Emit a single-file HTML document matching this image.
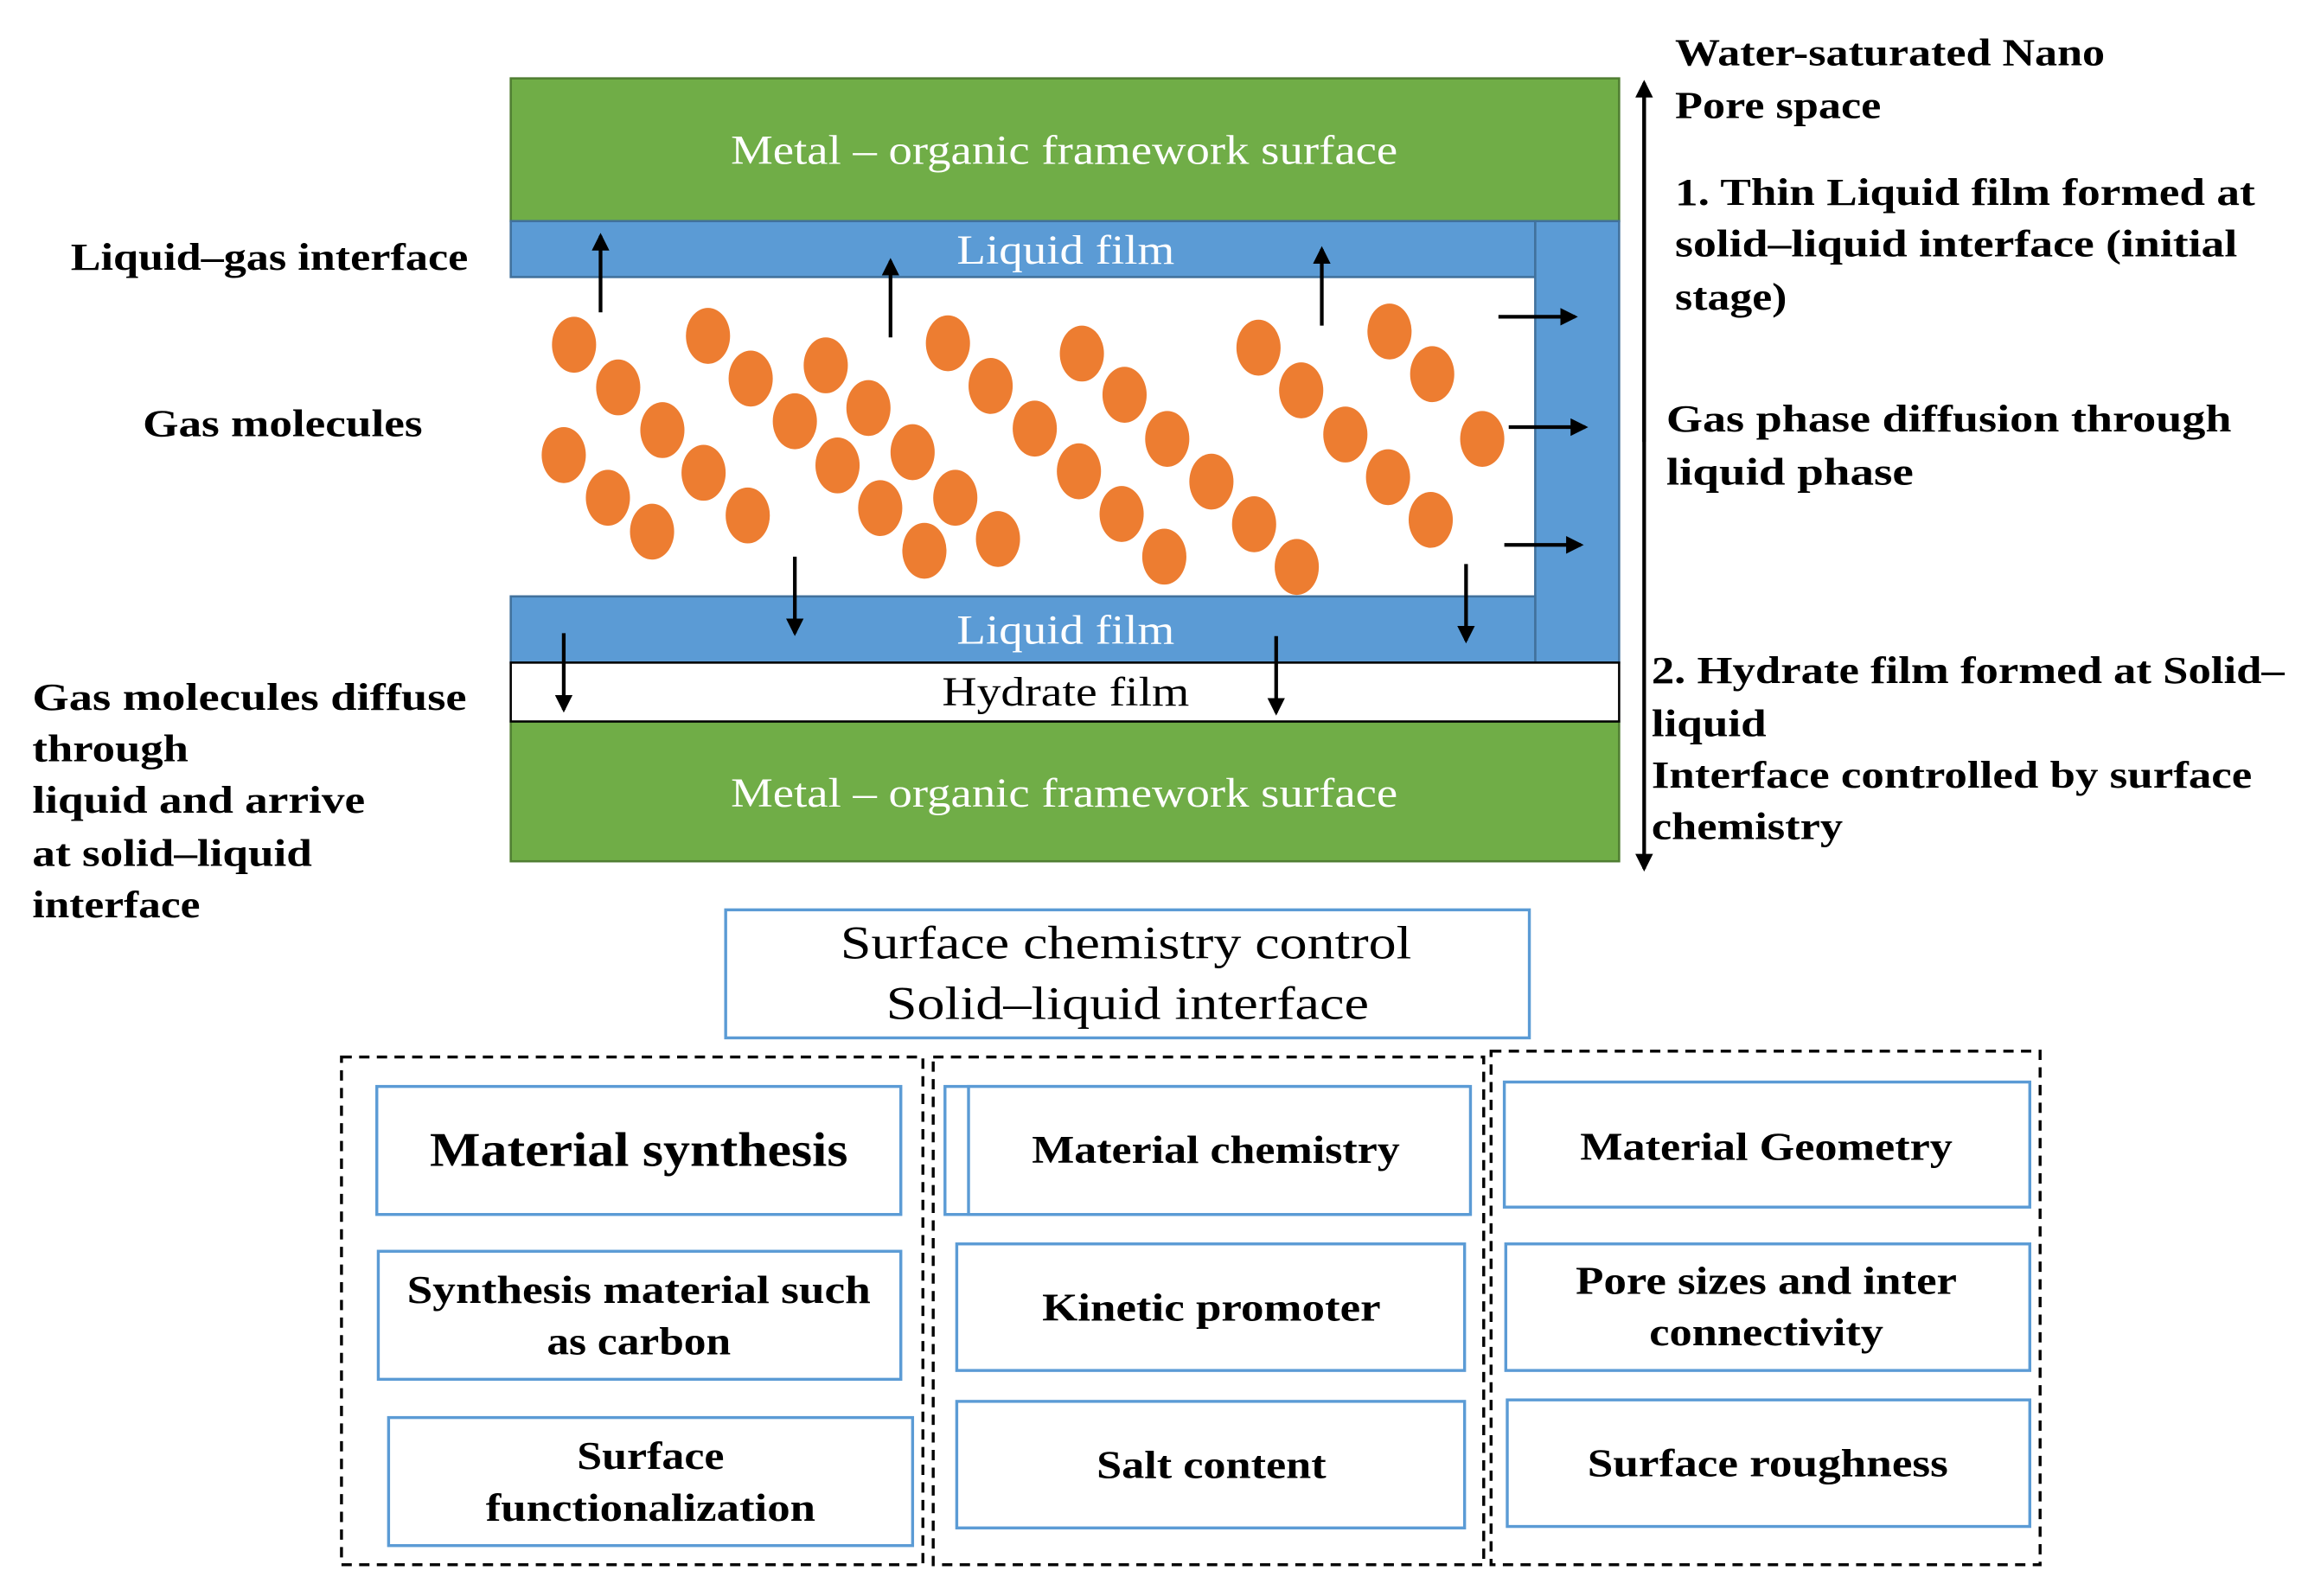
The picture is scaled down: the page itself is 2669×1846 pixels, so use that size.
<!DOCTYPE html>
<html><head><meta charset="utf-8"><style>
html,body{margin:0;padding:0;background:#fff;}
svg{display:block;}
text{font-family:"Liberation Serif",serif;}
</style></head><body>
<svg width="2669" height="1846" viewBox="0 0 1568 1084" xmlns="http://www.w3.org/2000/svg">
<defs>
<marker id="ah2" markerWidth="12" markerHeight="12" refX="10" refY="6" orient="auto" markerUnits="userSpaceOnUse"><path d="M0,0 L12,6 L0,12 z" fill="#000"/></marker>
</defs>
<rect width="1568" height="1084" fill="#fff"/>
<rect x="347" y="53" width="753" height="97" fill="#70AD47" stroke="#507E32" stroke-width="1.5"/>
<rect x="347" y="490" width="753" height="95" fill="#70AD47" stroke="#507E32" stroke-width="1.5"/>
<rect x="347" y="150" width="696" height="38" fill="#5B9BD5" stroke="#41719C" stroke-width="1.5"/>
<rect x="1043" y="150" width="57" height="300" fill="#5B9BD5" stroke="#41719C" stroke-width="1.5"/>
<rect x="347" y="405" width="696" height="45" fill="#5B9BD5" stroke="#41719C" stroke-width="1.5"/>
<rect x="347" y="450" width="753" height="40" fill="#fff" stroke="#000" stroke-width="1.5"/>
<g fill="#fff" font-size="28" text-anchor="middle" lengthAdjust="spacingAndGlyphs">
<text x="723" y="111" textLength="453" lengthAdjust="spacingAndGlyphs">Metal – organic framework surface</text>
<text x="723" y="548" textLength="453" lengthAdjust="spacingAndGlyphs">Metal – organic framework surface</text>
<text x="724" y="179" textLength="148" lengthAdjust="spacingAndGlyphs">Liquid film</text>
<text x="724" y="437" textLength="148" lengthAdjust="spacingAndGlyphs">Liquid film</text>
</g>
<text x="724" y="479" font-size="28" text-anchor="middle" textLength="168" lengthAdjust="spacingAndGlyphs">Hydrate film</text>
<g fill="#ED7D31">
<ellipse cx="390" cy="234" rx="15" ry="19"/><ellipse cx="420" cy="263" rx="15" ry="19"/><ellipse cx="450" cy="292" rx="15" ry="19"/>
<ellipse cx="383" cy="309" rx="15" ry="19"/><ellipse cx="413" cy="338" rx="15" ry="19"/><ellipse cx="443" cy="361" rx="15" ry="19"/>
<ellipse cx="481" cy="228" rx="15" ry="19"/><ellipse cx="510" cy="257" rx="15" ry="19"/><ellipse cx="540" cy="286" rx="15" ry="19"/>
<ellipse cx="478" cy="321" rx="15" ry="19"/><ellipse cx="508" cy="350" rx="15" ry="19"/>
<ellipse cx="561" cy="248" rx="15" ry="19"/><ellipse cx="590" cy="277" rx="15" ry="19"/><ellipse cx="620" cy="307" rx="15" ry="19"/>
<ellipse cx="569" cy="316" rx="15" ry="19"/><ellipse cx="598" cy="345" rx="15" ry="19"/><ellipse cx="628" cy="374" rx="15" ry="19"/>
<ellipse cx="649" cy="338" rx="15" ry="19"/><ellipse cx="678" cy="366" rx="15" ry="19"/>
<ellipse cx="644" cy="233" rx="15" ry="19"/><ellipse cx="673" cy="262" rx="15" ry="19"/><ellipse cx="703" cy="291" rx="15" ry="19"/>
<ellipse cx="733" cy="320" rx="15" ry="19"/><ellipse cx="762" cy="349" rx="15" ry="19"/><ellipse cx="791" cy="378" rx="15" ry="19"/>
<ellipse cx="735" cy="240" rx="15" ry="19"/><ellipse cx="764" cy="268" rx="15" ry="19"/><ellipse cx="793" cy="298" rx="15" ry="19"/>
<ellipse cx="823" cy="327" rx="15" ry="19"/><ellipse cx="852" cy="356" rx="15" ry="19"/><ellipse cx="881" cy="385" rx="15" ry="19"/>
<ellipse cx="855" cy="236" rx="15" ry="19"/><ellipse cx="884" cy="265" rx="15" ry="19"/><ellipse cx="914" cy="295" rx="15" ry="19"/>
<ellipse cx="943" cy="324" rx="15" ry="19"/><ellipse cx="972" cy="353" rx="15" ry="19"/>
<ellipse cx="944" cy="225" rx="15" ry="19"/><ellipse cx="973" cy="254" rx="15" ry="19"/><ellipse cx="1007" cy="298" rx="15" ry="19"/>
</g>
<g stroke="#000" stroke-width="2.5" marker-end="url(#ah2)">
<line x1="408" y1="212" x2="408" y2="160"/>
<line x1="605" y1="229" x2="605" y2="177"/>
<line x1="898" y1="221" x2="898" y2="169"/>
<line x1="1018" y1="215" x2="1070" y2="215"/>
<line x1="1025" y1="290" x2="1077" y2="290"/>
<line x1="1022" y1="370" x2="1074" y2="370"/>
<line x1="540" y1="378" x2="540" y2="430"/>
<line x1="996" y1="383" x2="996" y2="435"/>
<line x1="383" y1="430" x2="383" y2="482"/>
<line x1="867" y1="432" x2="867" y2="484"/>
</g>
<g stroke="#000" stroke-width="2.5">
<line x1="1117" y1="62" x2="1117" y2="590" marker-end="url(#ah2)"/>
<line x1="1117" y1="300" x2="1117" y2="56" marker-end="url(#ah2)"/>
</g>
<g font-size="26" font-weight="bold">
<text x="48" y="183" textLength="270" lengthAdjust="spacingAndGlyphs">Liquid–gas interface</text>
<text x="97" y="296" textLength="190" lengthAdjust="spacingAndGlyphs">Gas molecules</text>
<text x="22" y="482" textLength="295" lengthAdjust="spacingAndGlyphs">Gas molecules diffuse</text>
<text x="22" y="517" textLength="106" lengthAdjust="spacingAndGlyphs">through</text>
<text x="22" y="552" textLength="226" lengthAdjust="spacingAndGlyphs">liquid and arrive</text>
<text x="22" y="588" textLength="190" lengthAdjust="spacingAndGlyphs">at solid–liquid</text>
<text x="22" y="623" textLength="114" lengthAdjust="spacingAndGlyphs">interface</text>
<text x="1138" y="44" textLength="292" lengthAdjust="spacingAndGlyphs">Water-saturated Nano</text>
<text x="1138" y="80" textLength="140" lengthAdjust="spacingAndGlyphs">Pore space</text>
<text x="1138" y="139" textLength="394" lengthAdjust="spacingAndGlyphs">1. Thin Liquid film formed at</text>
<text x="1138" y="174" textLength="382" lengthAdjust="spacingAndGlyphs">solid–liquid interface (initial</text>
<text x="1138" y="210" textLength="76" lengthAdjust="spacingAndGlyphs">stage)</text>
<text x="1132" y="293" textLength="384" lengthAdjust="spacingAndGlyphs">Gas phase diffusion through</text>
<text x="1132" y="329" textLength="168" lengthAdjust="spacingAndGlyphs">liquid phase</text>
<text x="1122" y="464" textLength="430" lengthAdjust="spacingAndGlyphs">2. Hydrate film formed at Solid–</text>
<text x="1122" y="500" textLength="78" lengthAdjust="spacingAndGlyphs">liquid</text>
<text x="1122" y="535" textLength="408" lengthAdjust="spacingAndGlyphs">Interface controlled by surface</text>
<text x="1122" y="570" textLength="130" lengthAdjust="spacingAndGlyphs">chemistry</text>
</g>
<rect x="493" y="618" width="546" height="87" fill="#fff" stroke="#5B9BD5" stroke-width="2"/>
<g font-size="32" text-anchor="middle">
<text x="765" y="651" textLength="388" lengthAdjust="spacingAndGlyphs">Surface chemistry control</text>
<text x="766" y="692" textLength="328" lengthAdjust="spacingAndGlyphs">Solid–liquid interface</text>
</g>
<g fill="none" stroke="#000" stroke-width="2" stroke-dasharray="7,5">
<rect x="232" y="718" width="395" height="345"/>
<rect x="634" y="718" width="374" height="345"/>
<rect x="1013" y="714" width="373" height="349"/>
</g>
<g fill="#fff" stroke="#5B9BD5" stroke-width="2">
<rect x="256" y="738" width="356" height="87"/>
<rect x="257" y="850" width="355" height="87"/>
<rect x="264" y="963" width="356" height="87"/>
<rect x="642" y="738" width="355" height="87"/>
<rect x="658" y="738" width="341" height="87"/>
<rect x="650" y="845" width="345" height="86"/>
<rect x="650" y="952" width="345" height="86"/>
<rect x="1022" y="735" width="357" height="85"/>
<rect x="1023" y="845" width="356" height="86"/>
<rect x="1024" y="951" width="355" height="86"/>
</g>
<g font-size="27" font-weight="bold" text-anchor="middle">
<text x="434" y="792" font-size="33" textLength="284" lengthAdjust="spacingAndGlyphs">Material synthesis</text>
<text x="434" y="885" textLength="315" lengthAdjust="spacingAndGlyphs">Synthesis material such</text>
<text x="434" y="920" textLength="125" lengthAdjust="spacingAndGlyphs">as carbon</text>
<text x="442" y="998" textLength="100" lengthAdjust="spacingAndGlyphs">Surface</text>
<text x="442" y="1033" textLength="224" lengthAdjust="spacingAndGlyphs">functionalization</text>
<text x="826" y="790" textLength="250" lengthAdjust="spacingAndGlyphs">Material chemistry</text>
<text x="823" y="897" textLength="230" lengthAdjust="spacingAndGlyphs">Kinetic promoter</text>
<text x="823" y="1004" textLength="156" lengthAdjust="spacingAndGlyphs">Salt content</text>
<text x="1200" y="788" textLength="253" lengthAdjust="spacingAndGlyphs">Material Geometry</text>
<text x="1200" y="879" textLength="259" lengthAdjust="spacingAndGlyphs">Pore sizes and inter</text>
<text x="1200" y="914" textLength="159" lengthAdjust="spacingAndGlyphs">connectivity</text>
<text x="1201" y="1003" textLength="245" lengthAdjust="spacingAndGlyphs">Surface roughness</text>
</g>
</svg>
</body></html>
